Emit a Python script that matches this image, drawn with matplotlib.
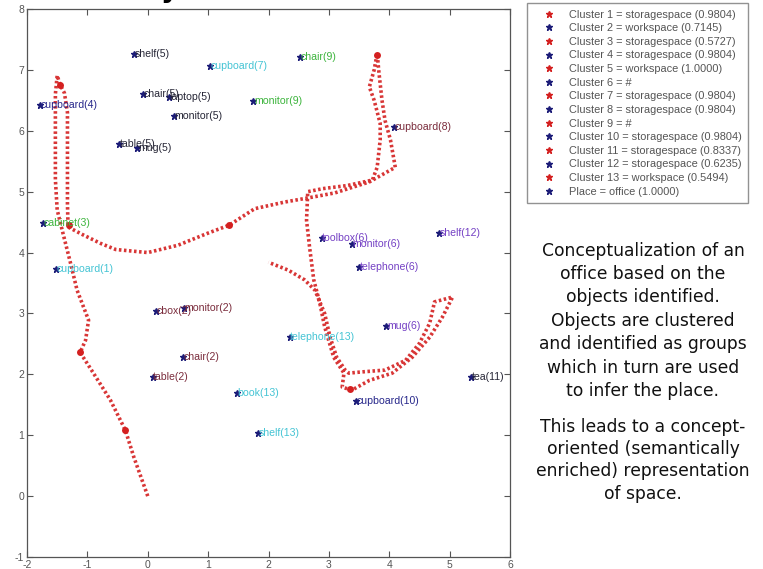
import matplotlib
matplotlib.use("Agg")
import matplotlib.pyplot as plt
from matplotlib.lines import Line2D

plt.rcParams["axes.unicode_minus"] = False

# robot trajectory waypoints
traj_x = [0.00, -0.23, -0.37, -0.62, -0.90, -1.12, -1.03, -0.98, -1.17, -1.28,
          -1.40, -1.50, -1.53, -1.53, -1.53, -1.50, -1.45, -1.38, -1.33, -1.33,
          -1.33, -1.32, -1.07, -0.78, -0.53, 0.00, 0.50, 1.00, 1.35, 1.77,
          2.27, 2.67, 3.10, 3.67, 4.10, 4.02, 3.93, 3.88, 3.83, 3.80,
          3.75, 3.67, 3.75, 3.85, 3.85, 3.80, 3.72, 3.30, 2.90, 2.65,
          2.63, 2.68, 2.75, 2.85, 2.93, 3.08, 3.25, 3.22, 3.38, 3.67,
          4.05, 4.38, 4.67, 4.88, 5.05, 4.75, 4.67, 4.50, 4.27, 3.93,
          3.55, 3.33, 3.27, 3.13, 3.02, 2.93, 2.77, 2.60, 2.33, 2.00]
traj_y = [0.00, 0.64, 1.08, 1.58, 2.02, 2.36, 2.56, 2.89, 3.38, 3.83,
          4.30, 4.70, 5.20, 6.00, 6.60, 6.91, 6.75, 6.62, 6.30, 5.50,
          4.80, 4.42, 4.29, 4.15, 4.05, 4.00, 4.12, 4.32, 4.45, 4.72,
          4.83, 4.90, 4.98, 5.16, 5.40, 5.85, 6.17, 6.50, 6.95, 7.27,
          7.00, 6.72, 6.50, 6.12, 5.85, 5.40, 5.19, 5.10, 5.05, 5.00,
          4.53, 4.09, 3.55, 3.17, 2.78, 2.28, 2.02, 1.79, 1.74, 1.90,
          2.02, 2.28, 2.61, 2.94, 3.27, 3.19, 2.84, 2.51, 2.23, 2.07,
          2.04, 2.02, 2.07, 2.28, 2.61, 3.00, 3.38, 3.55, 3.71, 3.84]

# larger red blobs along the path
stop_x = [-1.12, -0.37, 1.35, -1.45, -1.30, 3.80, 3.35]
stop_y = [2.36, 1.08, 4.45, 6.75, 4.45, 7.25, 1.76]

# identified objects
obj_names = ["shelf", "cupboard", "chair", "chair", "laptop", "monitor",
             "monitor", "cupboard", "table", "mug", "cupboard", "cabinet",
             "cupboard", "cbox", "monitor", "chair", "table", "book", "shelf",
             "telephone", "toolbox", "monitor", "telephone", "mug", "shelf",
             "tea", "cupboard"]
obj_cluster = [5, 7, 9, 5, 5, 5, 9, 4, 5, 5, 8, 3, 1, 2, 2, 2, 2, 13, 13, 13,
               6, 6, 6, 6, 12, 11, 10]
obj_x = [-0.23, 1.03, 2.52, -0.08, 0.35, 0.43, 1.75, -1.78, -0.48, -0.17,
         4.08, -1.73, -1.52, 0.13, 0.60, 0.58, 0.08, 1.47, 1.83, 2.35,
         2.88, 3.38, 3.50, 3.95, 4.83, 5.35, 3.45]
obj_y = [7.26, 7.06, 7.21, 6.60, 6.55, 6.24, 6.49, 6.42, 5.78, 5.71,
         6.06, 4.48, 3.73, 3.04, 3.09, 2.28, 1.95, 1.69, 1.03, 2.61,
         4.24, 4.14, 3.76, 2.79, 4.32, 1.96, 1.56]

legend_labels = [
    "Cluster 1 = storagespace (0.9804)",
    "Cluster 2 = workspace (0.7145)",
    "Cluster 3 = storagespace (0.5727)",
    "Cluster 4 = storagespace (0.9804)",
    "Cluster 5 = workspace (1.0000)",
    "Cluster 6 = #",
    "Cluster 7 = storagespace (0.9804)",
    "Cluster 8 = storagespace (0.9804)",
    "Cluster 9 = #",
    "Cluster 10 = storagespace (0.9804)",
    "Cluster 11 = storagespace (0.8337)",
    "Cluster 12 = storagespace (0.6235)",
    "Cluster 13 = workspace (0.5494)",
    "Place = office (1.0000)",
]

caption1 = ("Conceptualization of an\noffice based on the\nobjects identified.\n"
            "Objects are clustered\nand identified as groups\n"
            "which in turn are used\nto infer the place.")
caption2 = ("This leads to a concept-\noriented (semantically\n"
            "enriched) representation\nof space.")

# label colours cycle every 6 clusters
cycle = ["#44c4d4", "#7a2c3c", "#3cb43c", "#26268a", "#262636", "#7440c4"]
red = "#d42020"
navy = "#1c1c78"

fig = plt.figure(figsize=(7.63, 5.69), dpi=100)
ax = fig.add_axes([27 / 763, 1 - 557 / 569, (510 - 27) / 763, (557 - 9) / 569])

ax.plot(traj_x, traj_y, color=red, lw=2.6, linestyle=(0, (0.7, 0.7)),
        dash_capstyle="butt", alpha=0.9)
ax.plot(stop_x, stop_y, "o", color=red, ms=5, mec="none")

for name, c, x, y in zip(obj_names, obj_cluster, obj_x, obj_y):
    col = cycle[(c - 1) % 6]
    ax.annotate(f"{name}({c})", (x, y), xytext=(0.5, 0), textcoords="offset points",
                ha="left", va="center", fontsize=7.6, color=col,
                family="Liberation Sans")
    ax.plot(x, y, "*", color=navy, ms=5, mec=navy)

ax.set_xlim(-2, 6)
ax.set_ylim(-1, 8)
ax.set_xticks(range(-2, 7))
ax.set_yticks(range(-1, 9))
ax.tick_params(direction="in", top=True, right=True, length=4, width=0.8,
               colors="#555555", labelsize=7.5, pad=2)
for lab in ax.get_xticklabels() + ax.get_yticklabels():
    lab.set_family("Liberation Sans")
for sp in ax.spines.values():
    sp.set_color("#555555")
    sp.set_linewidth(0.9)

handles = [Line2D([], [], ls="none", marker="*", ms=5,
                  color=red if i % 2 == 0 else navy)
           for i in range(len(legend_labels))]
leg = fig.legend(handles, legend_labels, loc="upper left",
                 bbox_to_anchor=(527 / 763, 1 - 3 / 569), frameon=True,
                 fancybox=False, edgecolor="#777777", handlelength=2.8,
                 handletextpad=0.4, borderpad=0.6, labelspacing=0.33,
                 borderaxespad=0, prop={"family": "Liberation Sans", "size": 7.9})
for t in leg.get_texts():
    t.set_color("#555555")

fig.text(643 / 763, 0.436, caption1, ha="center", va="center", fontsize=12.3,
         linespacing=1.39, family="DejaVu Sans", color="#111111")
fig.text(643 / 763, 0.191, caption2, ha="center", va="center", fontsize=12.3,
         linespacing=1.31, family="DejaVu Sans", color="#111111")

# bottom of the cut-off title
fig.text(170 / 763, 1.005, "y", ha="center", va="baseline", fontsize=20,
         fontweight="bold", color="black")

fig.savefig("out.png", dpi=100)
